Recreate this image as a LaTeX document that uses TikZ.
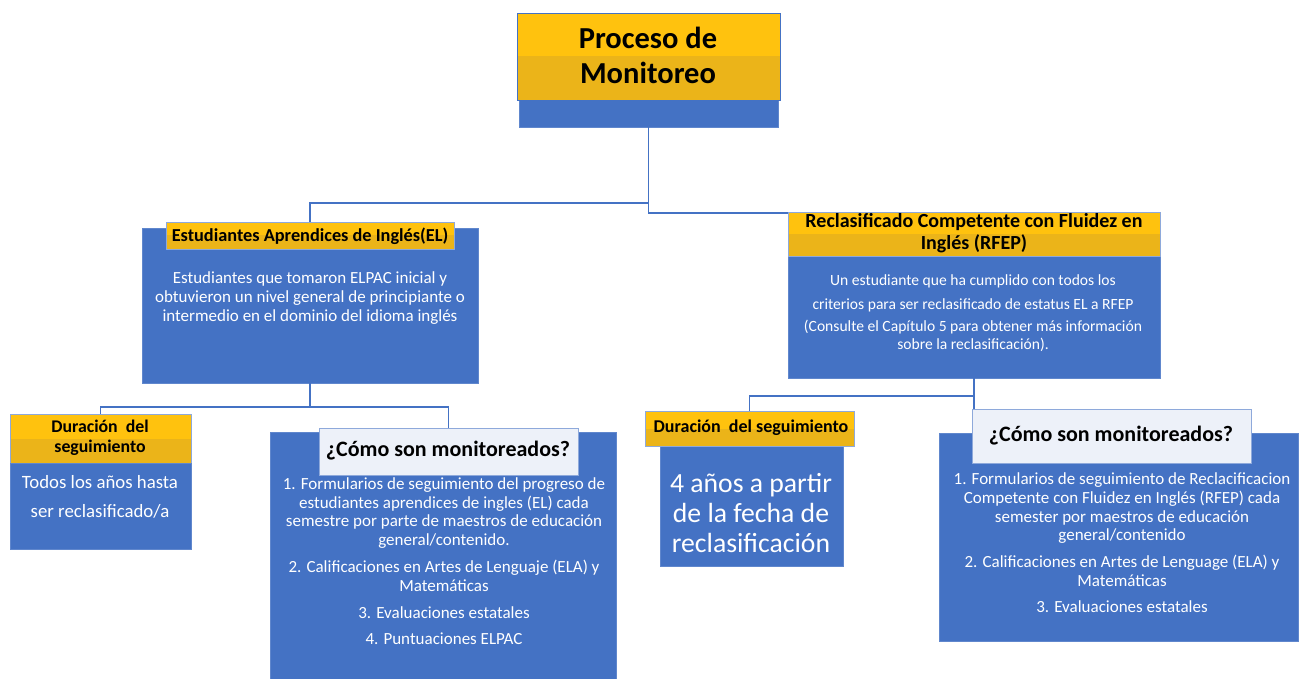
\documentclass[tikz,border=0pt]{standalone}
\usepackage{fontspec}
\setmainfont{Carlito}
\usetikzlibrary{calc}
\definecolor{bl}{HTML}{4472C4}
\definecolor{yl}{HTML}{FFC20E}
\definecolor{yd}{HTML}{EBB419}
\definecolor{wh}{HTML}{EDF1F9}
\definecolor{edge}{HTML}{8EA9DB}
\begin{document}
\begin{tikzpicture}[x=1pt,y=-1pt,
  conn/.style={draw=bl, line width=1.2pt},
  bluebox/.style={fill=bl, draw=bl!85!white, line width=0.8pt, anchor=north west, inner sep=0, outer sep=0},
  ybox/.style={fill=yl, draw=edge, line width=0.8pt, anchor=north west, inner sep=0, outer sep=0,
    path picture={\fill[yd] (path picture bounding box.west) rectangle (path picture bounding box.south east);}},
  whbox/.style={fill=wh, draw=edge, line width=0.8pt, anchor=north west, inner sep=0, outer sep=0},
  wtxt/.style={text=white, align=center, inner sep=0},
  ktxt/.style={text=black, align=center, inner sep=0}]
\useasboundingbox[fill=white] (0,0) rectangle (1299,679);

% title
\node[bluebox, minimum width=259, minimum height=27] (titlebase) at (519,100) {};
\node[ybox, draw=bl, minimum width=263, minimum height=87] (title) at (517,13) {};
\node[ktxt, font=\fontsize{30.5}{35}\selectfont\bfseries] (titletxt) at (648,55) {Proceso de\\Monitoreo};

% EL
\node[bluebox, minimum width=336, minimum height=155] (el) at (142,228) {};
\node[ybox, minimum width=288, minimum height=27] (elhead) at (166,222) {};
\node[ktxt, font=\fontsize{18.3}{20}\selectfont\bfseries] (elheadtxt) at (310,236) {Estudiantes Aprendices de Inglés(EL)};
\node[wtxt, font=\fontsize{17}{19}\selectfont] (eltxt) at (310,298) {Estudiantes que tomaron ELPAC inicial y\\obtuvieron un nivel general de principiante o\\intermedio en el dominio del idioma inglés};

% RFEP
\node[bluebox, minimum width=372, minimum height=166] (rfep) at (788,212) {};
\node[ybox, minimum width=372, minimum height=44] (rfephead) at (788,212) {};
\node[ktxt, font=\fontsize{20}{22}\selectfont\bfseries] (rfepheadtxt) at (974,233) {Reclasificado Competente con Fluidez en\\Inglés (RFEP)};
\node[wtxt, font=\fontsize{15.6}{18}\selectfont] (rfeptxt) at (973,313) {Un estudiante que ha cumplido con todos los\\[6pt]criterios para ser reclasificado de estatus EL a RFEP\\[4pt](Consulte el Capítulo 5 para obtener más información\\sobre la reclasificación).};

% Duracion 1
\node[ybox, minimum width=181, minimum height=49] (dur1head) at (10,414) {};
\node[bluebox, minimum width=181, minimum height=86] (dur1) at (10,463) {};
\node[ktxt, font=\fontsize{17.8}{20}\selectfont\bfseries] (dur1headtxt) at (100,438) {Duración\ \ del\\seguimiento};
\node[wtxt, font=\fontsize{18.8}{29}\selectfont] (dur1txt) at (100,497) {Todos los años hasta\\ser reclasificado/a};

% Como 1
\node[bluebox, minimum width=346, minimum height=247] (como1) at (270,432) {};
\node[whbox, minimum width=259, minimum height=47] (como1head) at (319,428) {};
\node[ktxt, font=\fontsize{22}{24}\selectfont\bfseries] (como1headtxt) at (448,451) {¿Cómo son monitoreados?};
\node[wtxt, font=\fontsize{17}{18.5}\selectfont] (como1txt) at (444,561) {1. Formularios de seguimiento del progreso de\\estudiantes aprendices de ingles (EL) cada\\semestre por parte de maestros de educación\\general/contenido.\\[9pt]2. Calificaciones en Artes de Lenguaje (ELA) y\\Matemáticas\\[9pt]3. Evaluaciones estatales\\[7pt]4. Puntuaciones ELPAC};

% Duracion 2
\node[bluebox, minimum width=183, minimum height=121] (dur2) at (660,445) {};
\node[ybox, minimum width=209, minimum height=35] (dur2head) at (645,411) {};
\node[ktxt, font=\fontsize{18}{19}\selectfont\bfseries] (dur2headtxt) at (751,428) {Duración\ \ del seguimiento};
\node[wtxt, font=\fontsize{27.7}{30}\selectfont] (dur2txt) at (751,513) {4 años a partir\\de la fecha de\\reclasificación};

% Como 2
\node[bluebox, minimum width=359, minimum height=208] (como2) at (939,433) {};
\node[whbox, minimum width=279, minimum height=54] (como2head) at (972,409) {};
\node[ktxt, font=\fontsize{22}{24}\selectfont\bfseries] (como2headtxt) at (1111,436) {¿Cómo son monitoreados?};
\node[wtxt, font=\fontsize{17}{18.7}\selectfont] (como2txt) at (1122,543) {1. Formularios de seguimiento de Reclacificacion\\Competente con Fluidez en Inglés (RFEP) cada\\semester por maestros de educación\\general/contenido\\[8pt]2. Calificaciones en Artes de Lenguage (ELA) y\\Matemáticas\\[8pt]3. Evaluaciones estatales};

% connectors
\coordinate (jL) at (650,203);
\coordinate (jR) at (650,213);
\coordinate (jEL) at (310,407);
\coordinate (jRF) at (975,396);
\draw[conn] (titlebase.south) -- (titlebase.south |- jR) -- (jR -| rfep.west);
\draw[conn] (titlebase.south |- jL) -| (elhead.north);
\draw[conn] (el.south) -- (el.south |- jEL);
\draw[conn] (dur1head.north) |- (como1head.north |- jEL) -- (como1head.north);
\draw[conn] (rfep.south) -- (rfep.south |- jRF);
\draw[conn] (dur2head.north) |- (rfep.south |- jRF) -- (rfep.south |- como2head.north);
\end{tikzpicture}
\end{document}
